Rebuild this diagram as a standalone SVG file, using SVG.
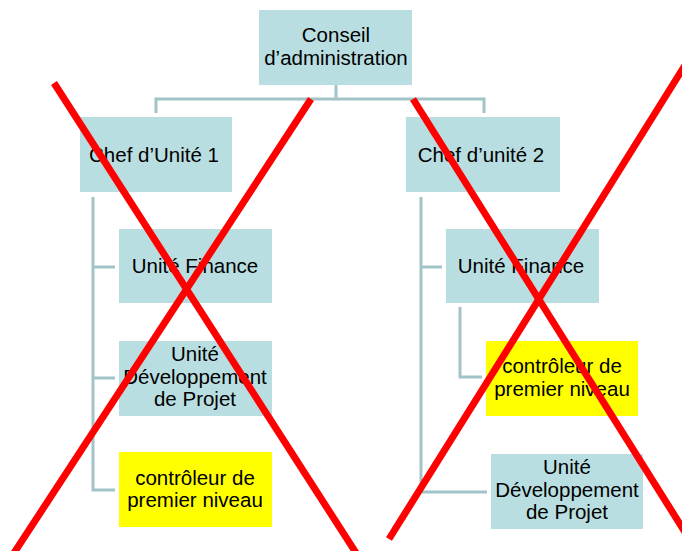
<svg xmlns="http://www.w3.org/2000/svg" width="682" height="551" viewBox="0 0 682 551">
<style>
.box{fill:#b9dee1}
.yel{fill:#ffff00}
.t{font-family:"Liberation Sans",Arial,sans-serif;font-size:20.5px;fill:#000;text-anchor:middle}
.c{fill:none;stroke:#a2c3c8;stroke-width:3}
.x{stroke:#ff0000;stroke-width:7;stroke-linecap:butt}
</style>
<rect width="682" height="551" fill="#ffffff"/>
<g id="connectors">
<path class="c" d="M336,85 V99 M156,113 V99 H484 V113"/>
<path class="c" d="M93,197 V490 H115 M93,267 H115 M93,378 H115"/>
<path class="c" d="M421,197 V492 H487 M421,267 H442"/>
<path class="c" d="M460,307 V377 H482"/>
</g>
<g id="conseil">
<rect class="box" x="259" y="10" width="153" height="75"/>
<text class="t" x="336" y="42">Conseil</text>
<text class="t" x="336" y="65">d’administration</text>
</g>
<g id="chef1">
<rect class="box" x="80" y="117" width="152" height="75"/>
<text class="t" x="154" y="162">Chef d’Unité 1</text>
</g>
<g id="chef2">
<rect class="box" x="406" y="117" width="154" height="75"/>
<text class="t" x="481" y="162">Chef d’unité 2</text>
</g>
<g id="finance1">
<rect class="box" x="119" y="229" width="153" height="74"/>
<text class="t" x="195" y="273">Unité Finance</text>
</g>
<g id="dev1">
<rect class="box" x="119" y="341" width="153" height="75"/>
<text class="t" x="195" y="361">Unité</text>
<text class="t" x="195" y="384">Développement</text>
<text class="t" x="195" y="406">de Projet</text>
</g>
<g id="ctrl1">
<rect class="yel" x="119" y="452" width="153" height="75"/>
<text class="t" x="195" y="485">contrôleur de</text>
<text class="t" x="195" y="507">premier niveau</text>
</g>
<g id="finance2">
<rect class="box" x="446" y="229" width="153" height="74"/>
<text class="t" x="521" y="273">Unité Finance</text>
</g>
<g id="ctrl2">
<rect class="yel" x="486" y="341" width="152" height="75"/>
<text class="t" x="562" y="373">contrôleur de</text>
<text class="t" x="562" y="396">premier niveau</text>
</g>
<g id="dev2">
<rect class="box" x="491" y="454" width="152" height="75"/>
<text class="t" x="567" y="474">Unité</text>
<text class="t" x="567" y="497">Développement</text>
<text class="t" x="567" y="519">de Projet</text>
</g>
<g id="crosses">
<line class="x" x1="54" y1="83" x2="358" y2="556"/>
<line class="x" x1="311" y1="99" x2="12" y2="556"/>
<line class="x" x1="413" y1="99" x2="700" y2="556"/>
<line class="x" x1="687" y1="62" x2="389" y2="539"/>
</g>
</svg>
